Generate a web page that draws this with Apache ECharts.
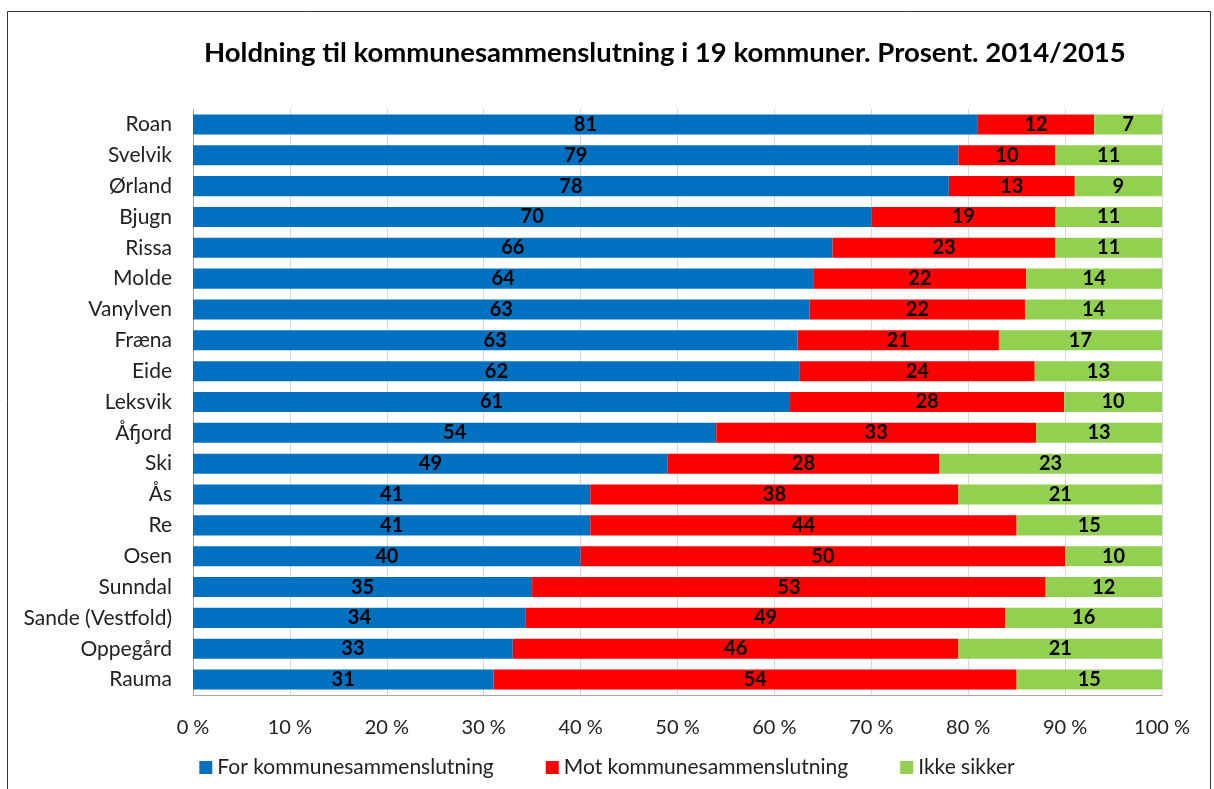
<!DOCTYPE html>
<html>
<head>
<meta charset="utf-8">
<script src="https://cdn.jsdelivr.net/npm/echarts@6/dist/echarts.min.js"></script>
<style>
  html, body { margin: 0; padding: 0; background: #fff; }
  #chart { width: 1214px; height: 789px; }
</style>
</head>
<body>
<div id="chart"></div>
<script>
const kommuner = ['Roan', 'Svelvik', 'Ørland', 'Bjugn', 'Rissa', 'Molde', 'Vanylven', 'Fræna', 'Eide', 'Leksvik', 'Åfjord', 'Ski', 'Ås', 'Re', 'Osen', 'Sunndal', 'Sande (Vestfold)', 'Oppegård', 'Rauma']
const forVals = [81, 79, 78, 70, 66, 64, 63, 63, 62, 61, 54, 49, 41, 41, 40, 35, 34, 33, 31]
const motVals = [12, 10, 13, 19, 23, 22, 22, 21, 24, 28, 33, 28, 38, 44, 50, 53, 49, 46, 54]
const ikkeVals = [7, 11, 9, 11, 11, 14, 14, 17, 13, 10, 13, 23, 21, 15, 10, 12, 16, 21, 15]
const seriesNames = ['For kommunesammenslutning', 'Mot kommunesammenslutning', 'Ikke sikker']
const colors = ['#0070c0', '#ff0000', '#92d050']

const font = 'Lato, "Noto Sans", sans-serif'
// 100 % stablet: hver rad skaleres til summen, etiketten viser tallet slik det er
const totals = kommuner.map((k, i) => forVals[i] + motVals[i] + ikkeVals[i])
const makeSeries = (name, vals, color) => ({
  name: name,
  type: 'bar',
  stack: 'total',
  barCategoryGap: '35%',
  itemStyle: { color: color },
  label: {
    show: true,
    position: 'inside',
    color: '#000',
    fontWeight: 'bold',
    fontSize: 20,
    fontFamily: font,
    formatter: p => vals[p.dataIndex]
  },
  emphasis: { disabled: true },
  data: vals.map((v, i) => v / totals[i] * 100)
})

const myChart = echarts.init(document.getElementById('chart'))
const option = {
  animation: false,
  textStyle: { fontFamily: font },
  title: {
    text: 'Holdning til kommunesammenslutning i 19 kommuner. Prosent. 2014/2015',
    left: 199,
    top: 34,
    textStyle: { fontSize: 27.5, fontWeight: 'bold', color: '#000', fontFamily: font }
  },
  graphic: [{
    type: 'rect',
    shape: { x: 7.5, y: 11.5, width: 1203, height: 800 },
    style: { fill: 'none', stroke: '#333', lineWidth: 1 },
    silent: true
  }],
  legend: {
    bottom: 6,
    left: 'center',
    itemWidth: 13,
    itemHeight: 13,
    itemGap: 52,
    icon: 'rect',
    textStyle: { fontSize: 21, color: '#222', fontFamily: font },
    data: seriesNames
  },
  grid: { left: 193, right: 52, top: 109, bottom: 94 },
  xAxis: {
    type: 'value',
    min: 0,
    max: 100,
    interval: 10,
    axisLine: { show: true, lineStyle: { color: '#a6a6a6' } },
    axisTick: { show: false },
    splitLine: { lineStyle: { color: '#d9d9d9' } },
    axisLabel: { formatter: '{value} %', fontSize: 20, color: '#222', margin: 23, fontFamily: font }
  },
  yAxis: {
    type: 'category',
    inverse: true,
    data: kommuner,
    axisLine: { lineStyle: { color: '#a6a6a6' } },
    axisTick: { show: false },
    axisLabel: { fontSize: 21, color: '#222', margin: 21, fontFamily: font }
  },
  series: [
    makeSeries(seriesNames[0], forVals, colors[0]),
    makeSeries(seriesNames[1], motVals, colors[1]),
    makeSeries(seriesNames[2], ikkeVals, colors[2])
  ]
}
myChart.setOption(option)
</script>
</body>
</html>
